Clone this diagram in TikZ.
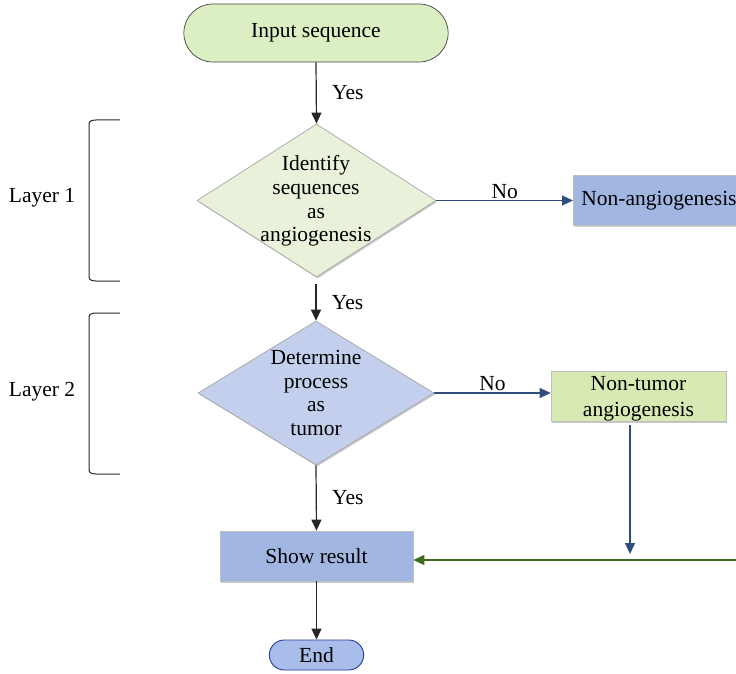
\documentclass[tikz,border=0pt]{standalone}
\usepackage{fontspec}
\setmainfont{Liberation Serif}
\usetikzlibrary{shapes.geometric,shapes.misc,arrows.meta,shadows}
\definecolor{gfill}{HTML}{DCEFC2}
\definecolor{gpale}{HTML}{E8F1DA}
\definecolor{bfill}{HTML}{A2B6E2}
\definecolor{bpale}{HTML}{C3CFEC}
\definecolor{ntfill}{HTML}{D8EAB4}
\definecolor{endfill}{HTML}{A9BDEA}
\definecolor{darrow}{HTML}{2F4E7E}
\definecolor{garrow}{HTML}{3E6B20}
\tikzset{
  txt/.style={font=\fontsize{21.5}{23.5}\selectfont, text=black},
  shad/.style={drop shadow={shadow xshift=1.2pt, shadow yshift=-1.5pt, opacity=0.35, fill=black!60}},
  term/.style={txt, rounded rectangle, draw=black!75, line width=0.7pt, minimum height=58pt, minimum width=271pt},
  decision/.style={txt, diamond, draw=black!35, line width=0.7pt, align=center, inner sep=0pt, shad},
  procbox/.style={txt, rectangle, draw=black!25, line width=0.7pt, align=center, shad},
  blk/.style={-{Triangle[length=11pt,width=10pt]}, line width=1.2pt, draw=black!85},
  blu/.style={-{Triangle[length=11pt,width=10pt]}, line width=1.1pt, draw=darrow},
  grn/.style={-{Triangle[length=11pt,width=10pt]}, line width=1.1pt, draw=garrow},
  lbl/.style={txt},
  brk/.style={line width=1pt, draw=black!85},
}
\begin{document}
\begin{tikzpicture}[x=1pt,y=-1pt]
\useasboundingbox (0,0) rectangle (736,674);
\node[term, fill=gfill] (input) at (316,33) {Input sequence};
\node[decision, fill=gpale, minimum width=239pt, minimum height=153pt, aspect=1.56] (d1) at (316.5,200.5) {};
\node[txt, align=center] (d1t) at (316,201) {Identify\\sequences\\as\\angiogenesis};
\node[decision, fill=bpale, minimum width=236pt, minimum height=144pt, aspect=1.64] (d2) at (316,393) {};
\node[txt, align=center] (d2t) at (316,393) {Determine\\process\\as\\tumor};
\node[procbox, fill=bfill, minimum height=50pt, inner xsep=8pt, anchor=west] (nonang) at (573,200.5) {Non-angiogenesis};
\node[procbox, fill=ntfill, minimum width=175pt, minimum height=50pt] (nontum) at (638.5,396) {};
\node[txt, align=center] (nontumt) at (638.5,398.5) {Non-tumor\\[2.5pt]angiogenesis};
\node[procbox, fill=bfill, minimum width=193pt, minimum height=50pt] (show) at (316.5,556) {Show result};
\node[txt, rounded rectangle, draw=darrow!80!blue, line width=0.9pt, fill=endfill, minimum width=101pt, minimum height=30pt, inner ysep=0pt] (end) at (316.5,655) {End};

\coordinate (d1b) at (316,284);
\coordinate (ntend) at (630,554);
\coordinate (gstart) at (740,560);
\coordinate (showr) at (show.east |- gstart);

\draw[blk] (input.south) -- (d1.north) node[lbl, midway, right=12pt] {Yes};
\draw[blu] (d1.east) -- (nonang.west) node[lbl, midway, above=-2pt] {No};
\draw[blk] (d1b) -- (d2.north) node[lbl, midway, right=12pt] {Yes};
\draw[blu] (d2.east) -- (d2.east -| nontum.west) node[lbl, midway, above=-2pt] {No};
\draw[blu] (nontum.south -| ntend) ++(0,4) -- (ntend);
\draw[grn] (gstart) -- (showr);
\draw[blk] (d2.south) -- (show.north) node[lbl, midway, right=12pt] {Yes};
\draw[blk] (show.south) -- (end.north);

\node[txt] (l1) at (42,198) {Layer 1};
\node[txt] (l2) at (42,392) {Layer 2};
\draw[brk] (120,120) -- (96,120) to[out=180,in=90] (89,124) -- (89,277) to[out=-90,in=180] (96,281) -- (120,281);
\draw[brk] (120,313) -- (96,313) to[out=180,in=90] (89,317) -- (89,470) to[out=-90,in=180] (96,474) -- (120,474);
\end{tikzpicture}
\end{document}
